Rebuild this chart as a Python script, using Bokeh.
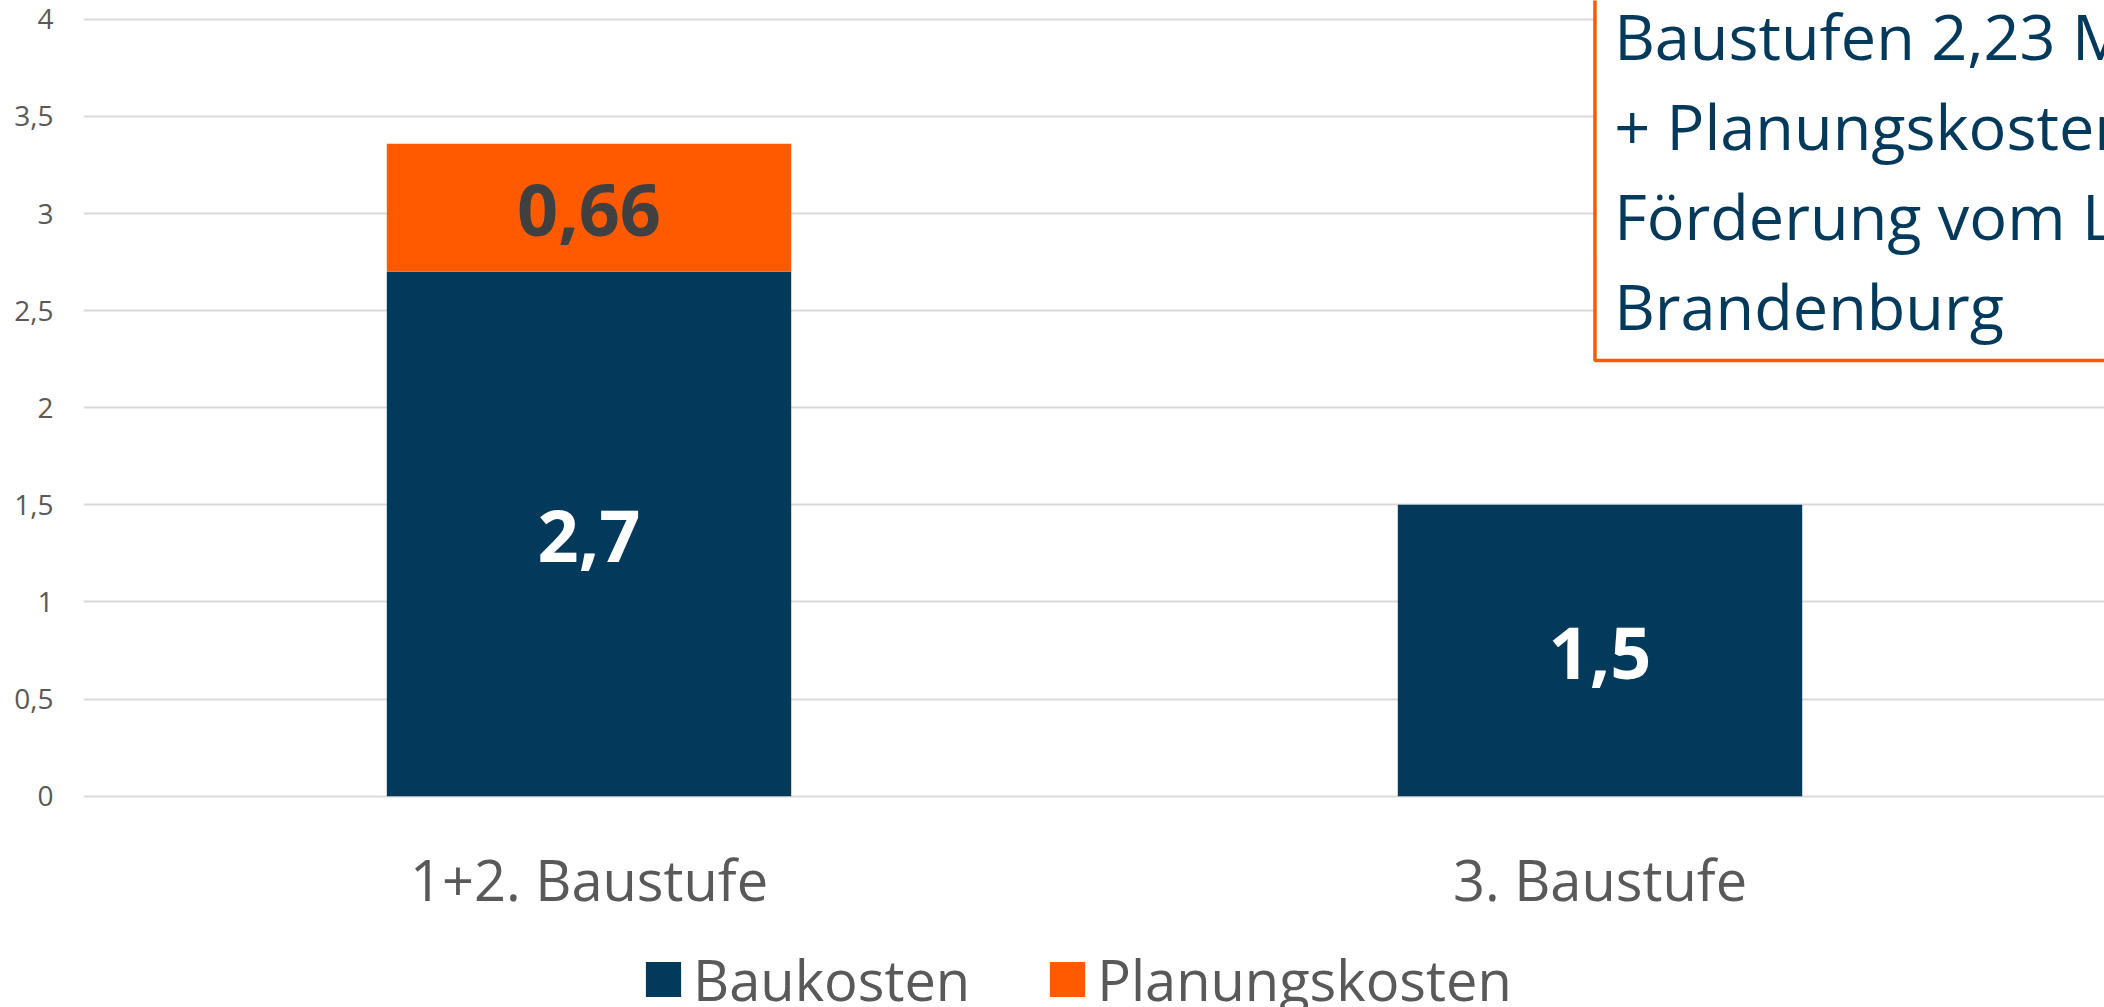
from bokeh.plotting import figure
from bokeh.models import (ColumnDataSource, Range1d, FixedTicker, CustomJSTickFormatter,
                          Legend, LegendItem)
from bokeh.core.properties import value
from bokeh.embed import file_html
from bokeh.resources import INLINE

# ---- data ----
categories = ["1+2. Baustufe", "3. Baustufe"]
series_names = ["Baukosten", "Planungskosten"]
baukosten = [2.7, 1.5]
planungskosten = [0.66, 0.0]
y_ticks = [0, 0.5, 1, 1.5, 2, 2.5, 3, 3.5, 4]
note_lines = ["Baustufen 2,23 Mio. €", "+ Planungskosten", "Förderung vom Land", "Brandenburg"]

NAVY = "#03395A"
ORANGE = "#FF5A00"
GRID = "#D9D9D9"
GREY = "#595959"
DARK = "#404040"
FONT = "Open Sans"

xs = list(range(len(categories)))
src = ColumnDataSource(dict(x=xs, Baukosten=baukosten, Planungskosten=planungskosten))

# frame extends to the bottom of the page; category labels and legend sit below y=0
p = figure(width=2104, height=1007,
           x_range=Range1d(-0.5, 1.499), y_range=Range1d(-1.088, 4.097),
           output_backend="svg", toolbar_location=None,
           min_border_left=83, min_border_right=0, min_border_top=0, min_border_bottom=0)
p.outline_line_color = None
p.background_fill_color = "white"

rs = p.vbar_stack(series_names, x="x", width=0.4, source=src,
                  fill_color=[NAVY, ORANGE], line_color=None)

# data labels
lab = dict(x=[], y=[], t=[], c=[])
for i in xs:
    base = 0.0
    for vals, col in [(baukosten, "white"), (planungskosten, DARK)]:
        v = vals[i]
        if v > 0:
            lab["x"].append(i)
            lab["y"].append(base + v / 2)
            lab["t"].append(("%g" % v).replace(".", ","))
            lab["c"].append(col)
        base += v
p.text(x="x", y="y", text="t", text_color="c", source=ColumnDataSource(lab),
       text_font=value(FONT), text_font_style="bold", text_font_size="72px",
       text_align="center", text_baseline="middle", y_offset=2)

# category labels (below the zero line)
p.text(x=xs, y=[0] * len(xs), text=categories, text_color=GREY,
       text_font=value(FONT), text_font_size="56px", text_align="center",
       text_baseline="alphabetic", y_offset=83)

# note box (extends beyond the visible area, clipped)
p.quad(left=[0.995], right=[3.0], bottom=[2.243], top=[6.0],
       fill_color="white", line_color=ORANGE, line_width=3.5)
note_y0 = 3.804
note_step = 0.4634
p.text(x=[1.014] * len(note_lines),
       y=[note_y0 - k * note_step for k in range(len(note_lines))],
       text=note_lines, text_color=NAVY, text_font=value(FONT),
       text_font_size="63px", text_align="left", text_baseline="alphabetic",
       y_offset=-22)

# y axis
p.yaxis.ticker = FixedTicker(ticks=y_ticks)
p.yaxis.formatter = CustomJSTickFormatter(code="return tick.toString().replace('.', ',');")
p.yaxis.major_label_text_font = FONT
p.yaxis.major_label_text_font_size = "28px"
p.yaxis.major_label_text_color = GREY
p.yaxis.axis_line_color = None
p.yaxis.major_tick_line_color = None
p.yaxis.minor_tick_line_color = None
p.yaxis.major_tick_out = 0
p.yaxis.major_tick_in = 0
p.yaxis.major_label_standoff = 30

p.ygrid.ticker = FixedTicker(ticks=y_ticks)
p.ygrid.grid_line_color = GRID
p.ygrid.grid_line_width = 2
p.xgrid.grid_line_color = None
p.xaxis.visible = False

# legend
legend = Legend(items=[LegendItem(label=n, renderers=[r]) for n, r in zip(series_names, rs)],
                orientation="horizontal", location=(558, -10),
                label_text_font=FONT, label_text_font_size="56px",
                label_text_color=GREY, glyph_width=44, glyph_height=44,
                label_standoff=8, spacing=75, padding=0, margin=0,
                border_line_color=None, background_fill_alpha=0)
p.add_layout(legend, "center")

open("out.html", "w").write(file_html(p, INLINE))
